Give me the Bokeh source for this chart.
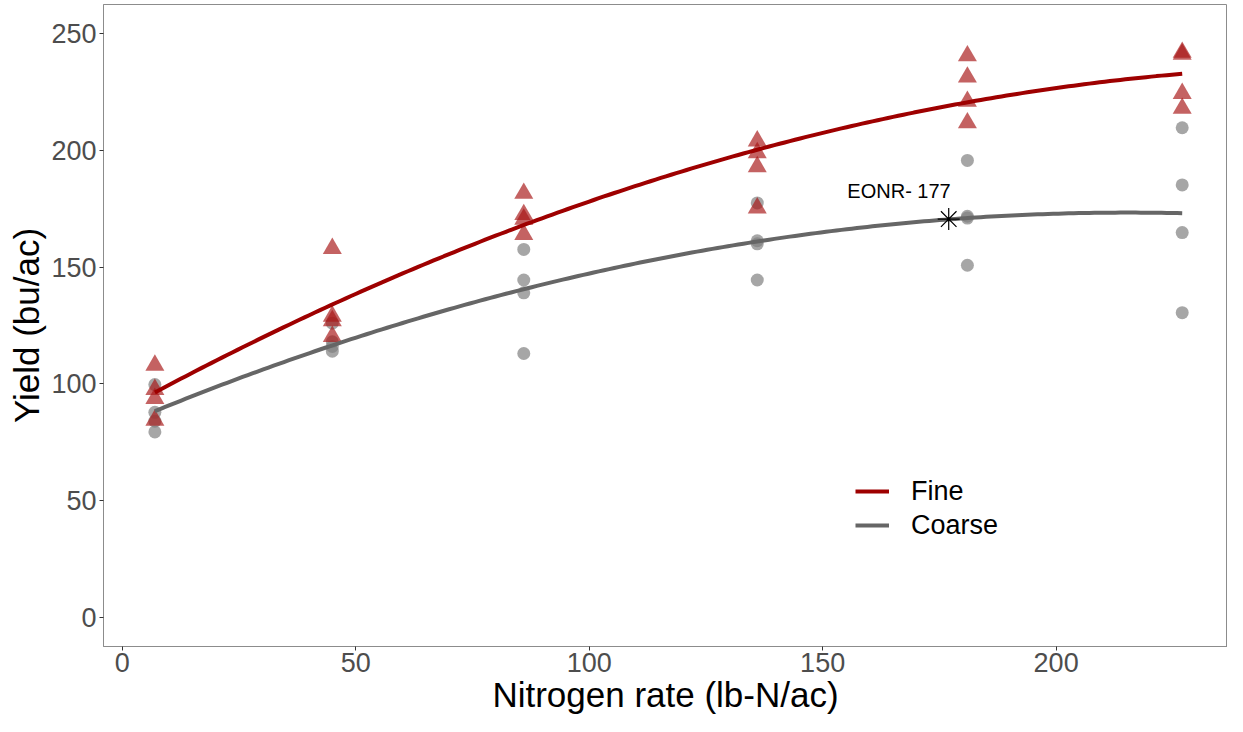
import numpy as np
from bokeh.plotting import figure
from bokeh.models import Range1d, Legend, LegendItem, FixedTicker, ColumnDataSource
from bokeh.core.properties import value
from bokeh.embed import file_html
from bokeh.resources import INLINE

# ---- data ----
rates = [7, 45, 86, 136, 181, 227]
fine_x = [7]*4 + [45]*4 + [86]*4 + [136]*4 + [181]*4 + [227]*4
fine_y = [108.0, 97.6, 93.7, 84.4,
          158.0, 129.0, 127.0, 120.3,
          181.6, 172.5, 170.5, 164.0,
          204.0, 199.0, 193.0, 175.3,
          240.5, 231.4, 221.0, 211.8,
          242.0, 241.2, 224.4, 218.0]
coarse_x = [7]*4 + [45]*4 + [86]*4 + [136]*4 + [181]*4 + [227]*4
coarse_y = [99.7, 87.8, 84.0, 79.4,
            126.0, 118.0, 116.0, 114.0,
            157.6, 144.5, 139.0, 113.0,
            177.5, 161.3, 160.0, 144.5,
            195.7, 171.8, 171.0, 150.8,
            209.7, 185.2, 164.8, 130.5]
eonr_x = [177]
eonr_y = [170.6]
eonr_label = ["EONR- 177"]
x_ticks = [0, 50, 100, 150, 200]
y_ticks = [0, 50, 100, 150, 200, 250]
series_names = ["Fine", "Coarse"]

# quadratic fits (as in the original's smoother)
def quad_fit(xs, ys):
    c = np.polyfit(xs, ys, 2)
    xx = np.linspace(min(xs), max(xs), 200)
    return xx, np.polyval(c, xx)

fx, fy = quad_fit(fine_x, fine_y)
cx, cy = quad_fit(coarse_x, coarse_y)

FONT = "Liberation Sans"
FINE_LINE = "#9E0000"
FINE_PT = "#A81818"
COARSE_LINE = "#666666"
COARSE_PT = "#808080"

p = figure(width=1227, height=716, output_backend="svg", toolbar_location=None,
           x_range=Range1d(-4.0, 236.7), y_range=Range1d(-12.5, 262.5),
           min_border_left=103, min_border_top=4, min_border_right=0, min_border_bottom=10)
p.background_fill_color = "white"
p.border_fill_color = "white"
p.outline_line_color = "#8C8C8C"
p.outline_line_width = 1
p.xgrid.visible = False
p.ygrid.visible = False

for ax in (p.xaxis, p.yaxis):
    ax.axis_line_color = "#8C8C8C"
    ax.major_tick_line_color = "#333333"
    ax.major_tick_in = 0
    ax.major_tick_out = 4
    ax.minor_tick_line_color = None
    ax.major_label_text_font = FONT
    ax.major_label_text_font_size = "27px"
    ax.major_label_text_color = "#4D4D4D"
    ax.axis_label_text_font = FONT
    ax.axis_label_text_font_size = "35px"
    ax.axis_label_text_font_style = "normal"
    ax.axis_label_text_color = "black"
    ax.major_label_standoff = 3
    ax.axis_label_standoff = 2

p.xaxis.major_label_standoff = 2
p.xaxis.axis_label_standoff = 0
p.xaxis.ticker = FixedTicker(ticks=x_ticks)
p.yaxis.ticker = FixedTicker(ticks=y_ticks)
p.xaxis.axis_label = "Nitrogen rate (lb-N/ac)"
p.yaxis.axis_label = "Yield (bu/ac)"

fs = ColumnDataSource(dict(x=fine_x, y=fine_y))
cs = ColumnDataSource(dict(x=coarse_x, y=coarse_y))

c_pts = p.scatter("x", "y", source=cs, marker="circle", size=13,
                  fill_color=COARSE_PT, fill_alpha=0.7, line_color=None)
f_pts = p.scatter("x", "y", source=fs, marker="triangle", size=19,
                  fill_color=FINE_PT, fill_alpha=0.68, line_color=None)
c_line = p.line(cx, cy, line_color=COARSE_LINE, line_width=4)
f_line = p.line(fx, fy, line_color=FINE_LINE, line_width=4)

p.scatter(eonr_x, eonr_y, marker="asterisk", size=22, line_color="black", line_width=1.2)
p.text(eonr_x, eonr_y, text=eonr_label, text_font=value(FONT), text_font_size="20px",
       text_align="right", text_baseline="middle", x_offset=2, y_offset=-28, text_color="black")

# legend
legend = Legend(items=[
    LegendItem(label=series_names[0], renderers=[f_line]),
    LegendItem(label=series_names[1], renderers=[c_line]),
], location=(752, 104))
legend.label_text_font = FONT
legend.label_text_font_size = "27px"
legend.label_text_color = "black"
legend.glyph_width = 34
legend.glyph_height = 34
legend.label_height = 34
legend.label_standoff = 22
legend.spacing = 0
legend.padding = 0
legend.margin = 0
legend.border_line_color = None
legend.background_fill_alpha = 0
p.add_layout(legend, "center")

open("out.html", "w").write(file_html(p, INLINE))
